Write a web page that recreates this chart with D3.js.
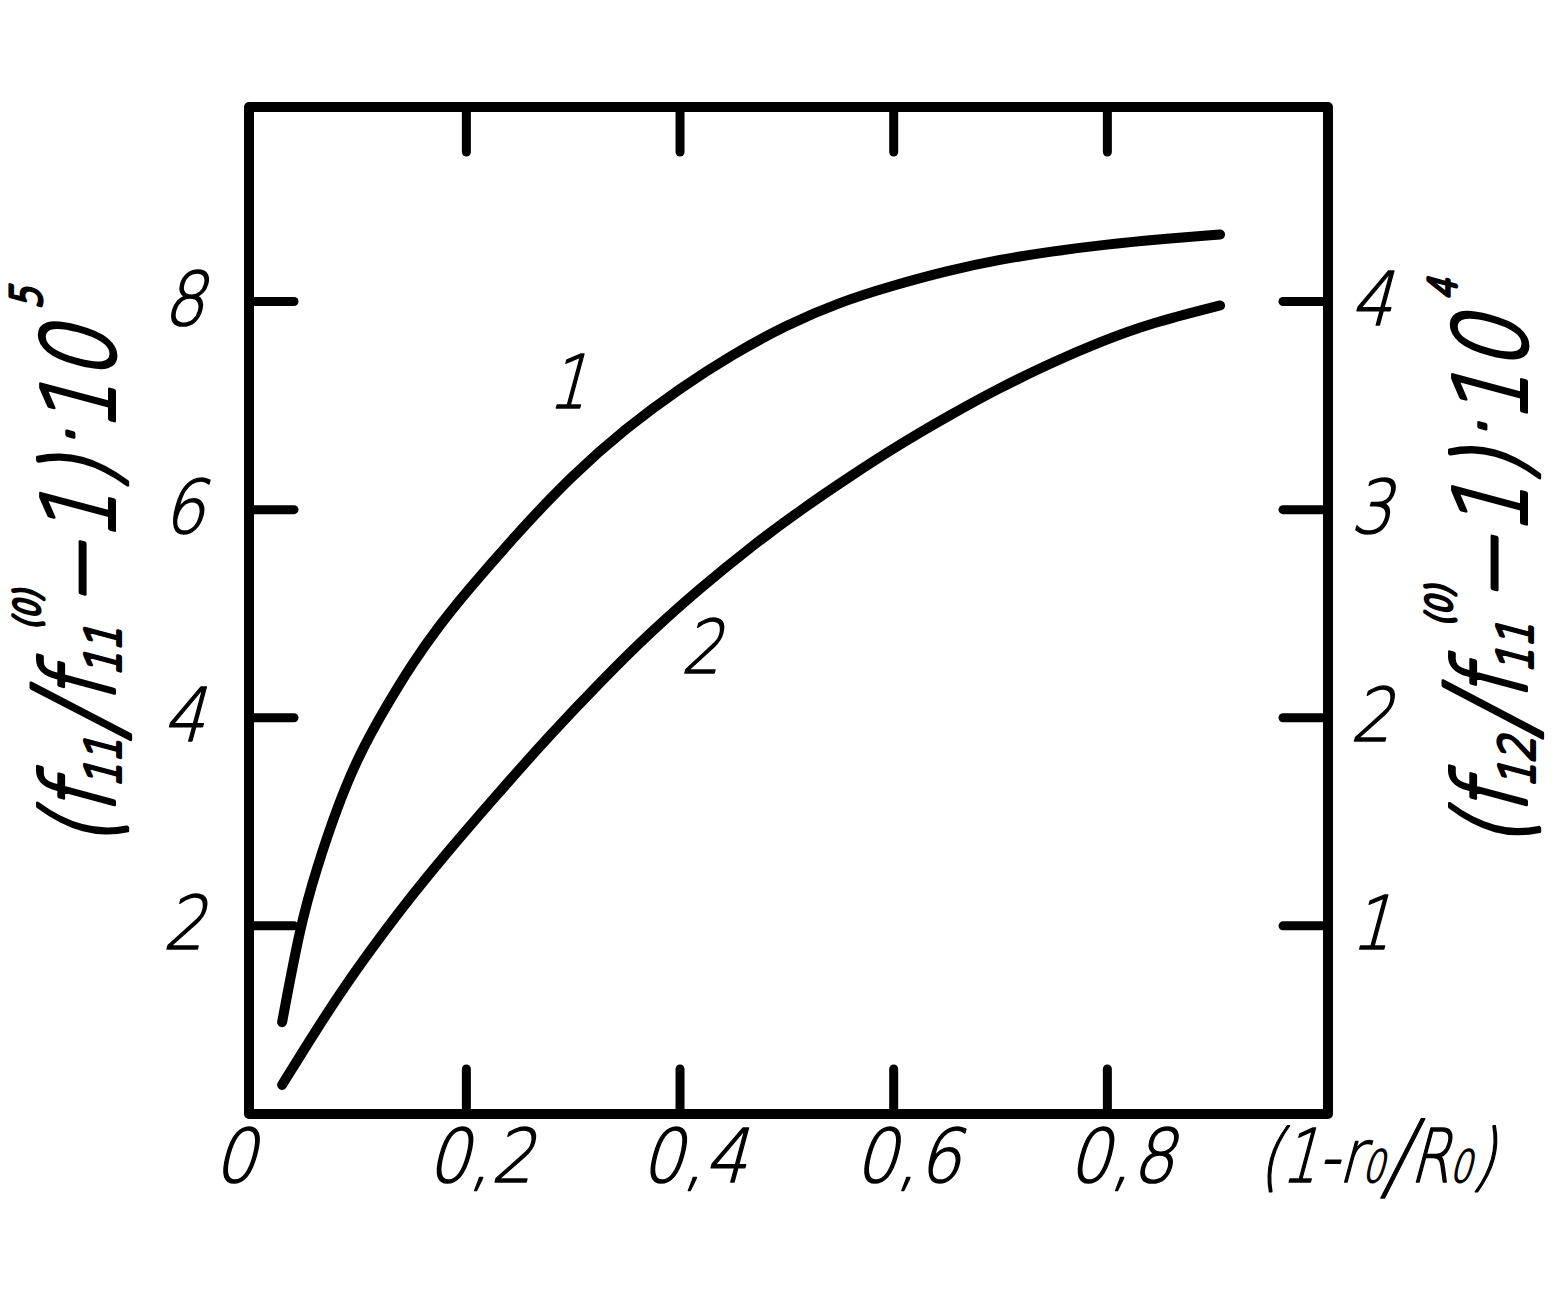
<!DOCTYPE html>
<html>
<head>
<meta charset="utf-8">
<script src="https://cdn.jsdelivr.net/npm/d3@7"></script>
<style>
  body { margin: 0; background: #fff; }
  svg { display: block; }
</style>
</head>
<body>
<svg width="1561" height="1301"></svg>
<script>
// ---- data ----
// curve 1, left axis: (f11/f11(0) - 1)*10^5
const ratio1 = [0.028, 0.045, 0.060, 0.080, 0.100, 0.125, 0.150, 0.175, 0.200, 0.250, 0.300, 0.350,
  0.400, 0.450, 0.500, 0.550, 0.600, 0.650, 0.700, 0.750, 0.800, 0.850, 0.906];
const curve1 = [1.07, 2.00, 2.54, 3.15, 3.64, 4.10, 4.52, 4.88, 5.20, 5.79, 6.33, 6.78,
  7.16, 7.49, 7.77, 7.99, 8.15, 8.29, 8.40, 8.48, 8.545, 8.595, 8.64];

// curve 2, right axis: (f12/f11(0) - 1)*10^4
const ratio2 = [0.028, 0.060, 0.090, 0.120, 0.150, 0.180, 0.226, 0.279, 0.326, 0.372, 0.419,
  0.466, 0.513, 0.560, 0.606, 0.653, 0.700, 0.747, 0.794, 0.841, 0.906];
const curve2 = [0.233, 0.499, 0.733, 0.946, 1.147, 1.336, 1.610, 1.917, 2.170, 2.405, 2.619,
  2.816, 2.995, 3.159, 3.311, 3.452, 3.584, 3.701, 3.805, 3.894, 3.979];

const xTicks = [0.2, 0.4, 0.6, 0.8];
const xLabels = ['0', '0,2', '0,4', '0,6', '0,8'];
const xLabelValues = [0, 0.2, 0.4, 0.6, 0.8];
const leftTicks = [2, 4, 6, 8];
const rightTicks = [1, 2, 3, 4];
const curveNames = ['1', '2'];
const curveNamePos = [[0.276, 6.97], [0.401, 4.43]]; // in left-axis units

// ---- layout ----
const svg = d3.select('svg');
const box = { left: 249, right: 1328, top: 107, bottom: 1114 };
const FONT = "'DejaVu Sans', 'Liberation Sans', sans-serif";
const SLANT = 15;
const tickLen = 45;

const x = d3.scaleLinear().domain([-0.003, 1.007]).range([box.left, box.right]);
const yL = d3.scaleLinear().domain([0.187, 9.865]).range([box.bottom, box.top]);
const yR = d3.scaleLinear().domain([0.187 / 2, 9.865 / 2]).range([box.bottom, box.top]);

// frame
svg.append('rect')
  .attr('x', box.left).attr('y', box.top)
  .attr('width', box.right - box.left).attr('height', box.bottom - box.top)
  .attr('fill', 'none').attr('stroke', '#000').attr('stroke-width', 10)
  .attr('stroke-linejoin', 'round');

// inward ticks on all four sides
function ticks(axis, tx, ty) {
  const g = svg.append('g')
    .attr('transform', `translate(${tx},${ty})`)
    .call(axis.tickSize(-tickLen).tickSizeOuter(0).tickFormat(''));
  g.select('.domain').remove();
  g.selectAll('line').attr('stroke', '#000').attr('stroke-width', 9).attr('stroke-linecap', 'round');
}
ticks(d3.axisBottom(x).tickValues(xTicks), 0, box.bottom);
ticks(d3.axisTop(x).tickValues(xTicks), 0, box.top);
ticks(d3.axisLeft(yL).tickValues(leftTicks), box.left, 0);
ticks(d3.axisRight(yR).tickValues(rightTicks), box.right, 0);

// curves
const line1 = d3.line().x((d, i) => x(ratio1[i])).y(d => yL(d)).curve(d3.curveBasis);
const line2 = d3.line().x((d, i) => x(ratio2[i])).y(d => yR(d)).curve(d3.curveBasis);
[[curve1, line1], [curve2, line2]].forEach(([data, ln]) => {
  svg.append('path')
    .datum(data)
    .attr('d', ln)
    .attr('fill', 'none').attr('stroke', '#000').attr('stroke-width', 10)
    .attr('stroke-linecap', 'round').attr('stroke-linejoin', 'round');
});

// slanted drafting-style text; parts: {t, s: relative size, b: baseline shift in em, dx}
function label(parts, o) {
  const g = svg.append('g').attr('transform', `translate(${o.x},${o.y}) rotate(${o.rotate || 0})`);
  const inner = g.append('g');
  const t = inner.append('text')
    .attr('font-family', FONT).attr('font-size', o.size).attr('font-weight', 200)
    .attr('fill', '#000').attr('stroke', '#000').attr('stroke-width', o.weight || 1.5)
    .attr('stroke-linejoin', 'round');
  let prev = 0;
  parts.forEach(p => {
    const b = p.b || 0;
    t.append('tspan')
      .attr('font-size', (p.s || 1) * o.size)
      .attr('dy', (b - prev) * o.size)
      .attr('dx', p.dx ? p.dx * o.size : null)
      .text(p.t);
    prev = b;
  });
  const bb = t.node().getBBox();
  const sx = o.len ? o.len / bb.width : (o.sx || 1);
  const frac = o.anchor === 'end' ? 1 : o.anchor === 'middle' ? 0.5 : 0;
  t.attr('x', -bb.x - frac * bb.width);
  inner.attr('transform', `skewX(${-SLANT}) scale(${sx},1)`);
}

const TS = 74; // tick label size
// x tick labels
xLabelValues.forEach((v, i) => {
  label([{ t: xLabels[i] }], { x: x(v) - 39, y: 1182, size: TS, sx: 0.9 });
});
// left tick labels
leftTicks.forEach(v => {
  label([{ t: String(v) }], { x: 204, y: yL(v) + 24, size: TS, sx: 0.88, anchor: 'end' });
});
// right tick labels
rightTicks.forEach(v => {
  label([{ t: String(v) }], { x: 1350, y: yR(v) + 24, size: TS, sx: 0.88 });
});
// curve numbers
curveNames.forEach((n, i) => {
  label([{ t: n }], { x: x(curveNamePos[i][0]), y: yL(curveNamePos[i][1]), size: TS, sx: 0.85 });
});

// x axis title
label([
  { t: '(1-r' }, { t: '0', s: 0.6 }, { t: '/', s: 1.3, b: 0.1 }, { t: 'R', b: 0 },
  { t: '0', s: 0.6 }, { t: ')' }
], { x: 1258, y: 1182, size: TS, len: 236 });

// y axis titles (read bottom to top)
label([
  { t: '(f' }, { t: '11', s: 0.48, b: 0.06 }, { t: '/', s: 1.2, b: 0.05 }, { t: 'f', b: 0 },
  { t: '11', s: 0.48, b: 0.06 }, { t: '(0)', s: 0.34, b: -0.75, dx: -0.3 },
  { t: '−1)', b: 0 }, { t: '·', b: -0.1 }, { t: '10', b: 0 }, { t: '5', s: 0.42, b: -0.73 }
], { x: 114, y: 577, rotate: -90, size: 100, len: 540, anchor: 'middle', weight: 4 });

label([
  { t: '(f' }, { t: '12', s: 0.48, b: 0.08 }, { t: '/', s: 1.2, b: 0.05 }, { t: 'f', b: 0 },
  { t: '11', s: 0.48, b: 0.06 }, { t: '(0)', s: 0.34, b: -0.75, dx: -0.3 },
  { t: '−1)', b: 0 }, { t: '·', b: -0.1 }, { t: '10', b: 0 }, { t: '4', s: 0.38, b: -0.7 }
], { x: 1526, y: 573, rotate: -90, size: 100, len: 550, anchor: 'middle', weight: 4 });
</script>
</body>
</html>
